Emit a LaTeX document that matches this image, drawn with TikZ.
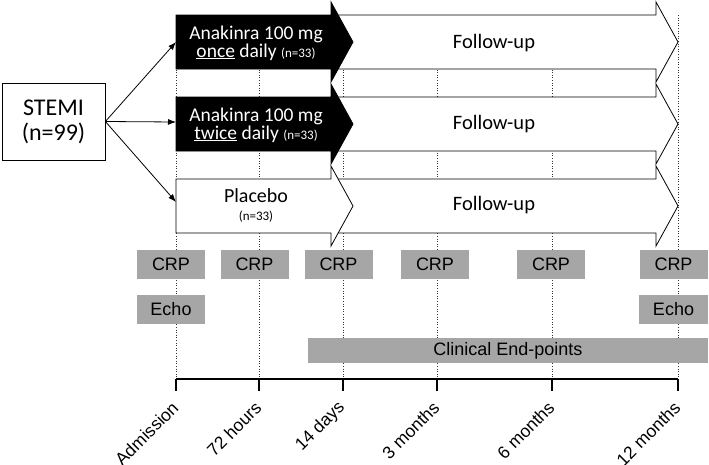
\documentclass[tikz,border=0pt]{standalone}
\usepackage{fontspec}
\setmainfont{Carlito}
\newfontfamily\arialfont{Liberation Sans}
\usetikzlibrary{arrows.meta}
\definecolor{boxgray}{RGB}{166,166,166}
\tikzset{
  vline/.style={black!80, line width=0.8pt, dash pattern=on 0.9pt off 1.7pt},
  armbox/.style={draw=black, line width=0.8pt},
  armtext/.style={align=center, inner sep=0pt, font=\fontsize{19.5}{16.5}\selectfont},
  graybox/.style={fill=boxgray, inner sep=0pt, font=\arialfont\fontsize{18}{20}\selectfont},
  tlabel/.style={rotate=45, anchor=east, inner sep=1pt, font=\arialfont\fontsize{17.5}{19}\selectfont},
}
\begin{document}
\begin{tikzpicture}[x=1pt, y=-1pt, >={Latex[length=8pt,width=6pt]}]
    \useasboundingbox (0,0) rectangle (709,464);
    %% Draw the dotted time lines
    \foreach \tx in {176,259,343,437,552,678}
      \draw[vline] (\tx,15) -- (\tx,379);
    %% Draw the follow-up arrows
    \foreach \yc in {42,124,206}
      \draw[armbox, fill=white] (331,\yc-27) -- (656,\yc-27) -- (656,\yc-40) -- (678,\yc)
        -- (656,\yc+40) -- (656,\yc+27) -- (331,\yc+27) -- cycle;
    %% Draw the treatment arrows
    \foreach \yc/\col in {42/black,124/black,206/white}
      \draw[armbox, fill=\col] (176,\yc-27) -- (331,\yc-27) -- (331,\yc-40) -- (353,\yc)
        -- (331,\yc+40) -- (331,\yc+27) -- (176,\yc+27) -- cycle;
    \coordinate (onceTail) at (176,42);
    \coordinate (twiceTail) at (176,122);
    \coordinate (placeboTail) at (176,202);
    %% Draw the texts
    \node[draw, line width=0.8pt, minimum width=103pt, minimum height=77pt, align=center,
      font=\fontsize{24}{25}\selectfont] (stemi) at (53.5,121.5) {STEMI\\(n=99)};
    \node[armtext, text=white] (once) at (256,43)
      {Anakinra 100 mg\\\underline{once} daily {\fontsize{13}{14}\selectfont(n=33)}};
    \node[armtext, text=white] (twice) at (256,125)
      {Anakinra 100 mg\\\underline{twice} daily {\fontsize{13}{14}\selectfont(n=33)}};
    \node[armtext, font=\fontsize{20}{18}\selectfont] (placebo) at (256,205)
      {Placebo\\{\fontsize{13}{14}\selectfont(n=33)}};
    \node[armtext, font=\fontsize{20.5}{22}\selectfont] (fupA) at (494,43) {Follow-up};
    \node[armtext, font=\fontsize{20.5}{22}\selectfont] (fupB) at (494,124) {Follow-up};
    \node[armtext, font=\fontsize{20.5}{22}\selectfont] (fupC) at (494,205) {Follow-up};
    %% Draw the randomisation edges
    \begin{scope}[every path/.style={->, line width=0.8pt}]
      \draw (stemi.east) -- (onceTail);
      \draw (stemi.east) -- (twiceTail);
      \draw (stemi.east) -- (placeboTail);
    \end{scope}
    %% Draw the measurements
    \foreach \bx [count=\i] in {171,254.5,338.5,435,551,673.5}
      \node[graybox, minimum width=68pt, minimum height=29pt] (crp\i) at (\bx,264.5) {CRP};
    \node[graybox, minimum width=68pt, minimum height=29pt] (echoA) at (171,309.5) {Echo};
    \node[graybox, minimum width=69pt, minimum height=29pt] (echoB) at (673.5,309.5) {Echo};
    \node[graybox, minimum width=400pt, minimum height=25pt] (endpts) at (508,350.5)
      {Clinical End-points};
    %% Draw the time axis
    \draw[line width=1.2pt] (176,379) -- (678,379);
    \foreach \tx/\tl in {176/Admission,259/72 hours,343/14 days,437/3 months,552/6 months,678/12 months} {
      \draw[line width=1.2pt] (\tx,379) -- (\tx,391);
      \node[tlabel] (lab\tx) at (\tx,404) {\tl};
    }
  \end{tikzpicture}
\end{document}
